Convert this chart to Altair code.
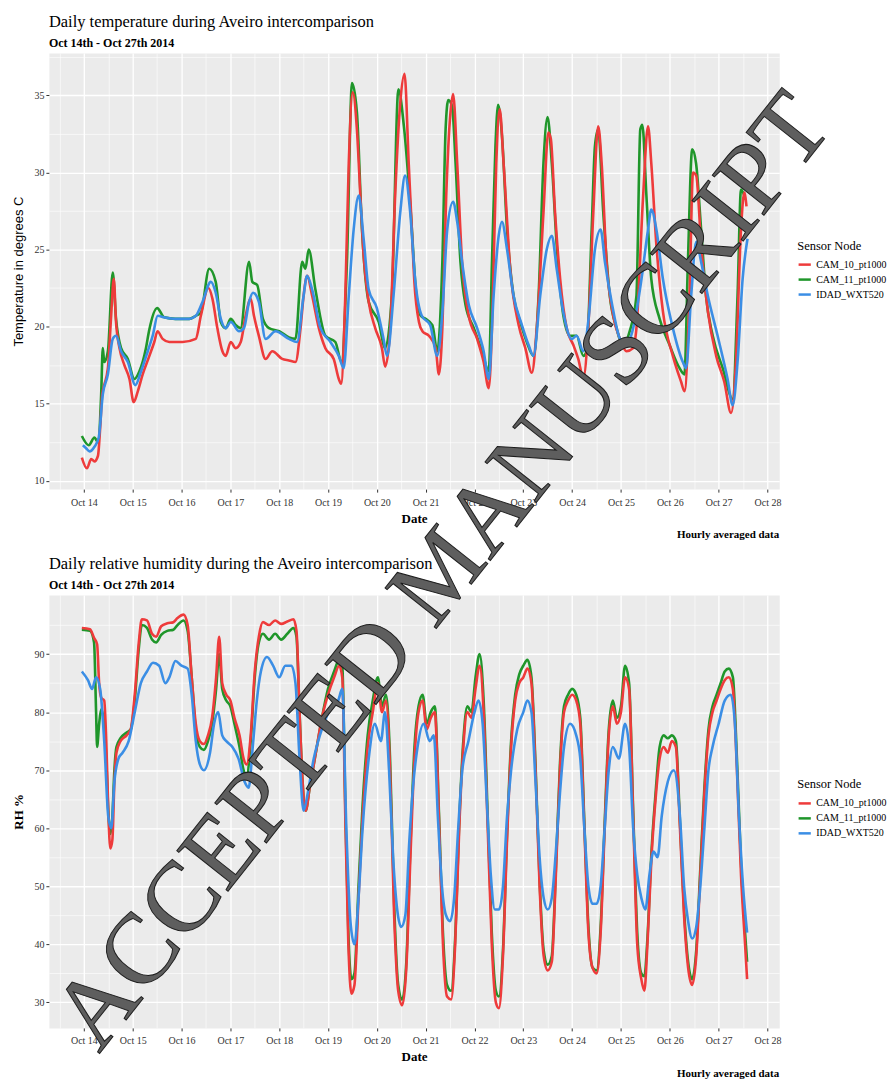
import altair as alt
import pandas as pd

SERIES = ["CAM_10_pt1000", "CAM_11_pt1000", "IDAD_WXT520"]
COLORS = ["#EE3B3B", "#1F962A", "#3B8EE5"]

# ---- Temperature (hours since Oct 14 00:00, degrees C) ----
temp_cam10 = [(-1, 11.5), (1.5, 10.8), (3.6, 11.4), (5.2, 11.25), (6.9, 11.6), (8, 13.4), (9, 15.6), (10, 16.2), (11.8, 17.3), (13.4, 20.7), (14.7, 23.1), (15.8, 20.3), (17.5, 18.6), (19.9, 17.5), (22.4, 16.6), (24.5, 15.1), (26.5, 15.8), (28.9, 16.9), (32.2, 18.1), (34.6, 19.0), (36.2, 19.7), (38.7, 19.2), (42, 19.0), (48.5, 19.0), (55, 19.2), (57.5, 20.7), (61.2, 22.5), (63.2, 21.8), (65.6, 19.9), (68.1, 18.4), (69.7, 18.1), (72.2, 19.0), (74.6, 18.6), (77.1, 19.0), (79.5, 20.7), (82, 21.8), (83.6, 20.7), (86, 19.4), (89.3, 17.9), (92.6, 18.4), (97.5, 17.9), (100.8, 17.8), (104, 17.7), (106.5, 19.9), (108, 22.0), (109.7, 23.3), (112.2, 22.0), (115.5, 19.9), (118.7, 18.6), (122.8, 17.9), (125.3, 16.6), (126.4, 16.3), (128.5, 22.0), (130.2, 30.6), (132.1, 35.2), (134.2, 32.8), (135.9, 28.5), (137.5, 24.6), (140, 21.6), (143.2, 19.9), (146.5, 18.6), (148.1, 17.4), (150.6, 19.9), (153, 28.5), (155.5, 34.5), (157.6, 36.4), (159.7, 30.5), (161.2, 26.3), (162.5, 22.8), (164.7, 20.3), (166.4, 19.7), (169.6, 19.4), (172.9, 18.6), (174.5, 16.9), (176.2, 19.9), (178.1, 28.5), (180.2, 33.9), (181.5, 35.1), (183.5, 30.6), (185.9, 24.2), (189.2, 20.7), (193.3, 19.2), (196.5, 17.7), (199, 16.0), (200.6, 19.9), (202.7, 30.6), (204.4, 34.1), (206.3, 30.6), (209.6, 23.7), (213.7, 20.1), (217, 18.6), (220.2, 17.0), (222.6, 19.9), (225.9, 27.4), (228.3, 32.6), (229.5, 32.2), (231.6, 27.4), (234.1, 23.1), (237.3, 19.9), (240.6, 18.8), (243, 17.9), (245.5, 16.7), (247.9, 19.9), (250.4, 27.4), (252.8, 33.0), (254.5, 30.6), (256.9, 24.2), (260.2, 20.7), (263.5, 19.2), (266.7, 18.4), (270, 18.6), (271.6, 19.9), (274.9, 28.5), (277.3, 33.0), (278.9, 30.6), (281.4, 25.3), (284.6, 21.0), (289.5, 18.1), (293.6, 16.4), (295.2, 15.8), (297.7, 22.0), (299.4, 30.0), (301, 29.8), (303.4, 25.3), (306.7, 21.0), (310.8, 18.1), (314.8, 16.4), (318.1, 14.4), (320.5, 17.7), (323, 26.3), (324.6, 28.7), (325.7, 27.8)]

temp_cam11 = [(-1, 12.9), (2.4, 12.3), (5.2, 12.8), (6.9, 12.5), (8.5, 15.6), (9.3, 18.6), (10, 17.7), (11.8, 18.4), (14.2, 23.5), (15.8, 20.5), (18.3, 18.6), (21.6, 17.9), (24.8, 16.6), (27.3, 17.1), (30.5, 18.6), (32, 19.7), (36, 21.2), (39.5, 20.6), (45, 20.5), (51.8, 20.5), (55, 20.7), (57.5, 20.9), (61.6, 23.75), (64.8, 22.9), (67.3, 20.3), (69.7, 19.9), (72.2, 20.5), (74.6, 20.1), (77, 19.9), (81.2, 24.2), (82.8, 22.9), (85.2, 22.7), (88, 20.5), (91, 19.9), (96, 19.7), (100.8, 19.3), (104, 19.2), (107.3, 24.2), (108.9, 23.75), (110.5, 25.0), (113.8, 22.4), (118.7, 19.4), (123.6, 19.0), (126.6, 17.7), (129.3, 24.2), (131.8, 35.8), (134.2, 33.9), (136.7, 26.3), (140, 21.6), (144.9, 20.3), (148.1, 18.6), (151.4, 22.1), (154.6, 35.4), (157.3, 33.0), (160.7, 27.4), (163.1, 22.5), (165.6, 20.7), (168, 20.5), (171.3, 20.1), (173.7, 18.4), (176.2, 24.2), (177.8, 32.8), (179.1, 34.7), (181, 34.3), (182.7, 30.6), (185.1, 24.2), (187.6, 21.4), (191.7, 19.9), (195.7, 18.4), (199, 17.1), (200.6, 24.2), (202.3, 31.7), (203.6, 34.4), (205.5, 32.4), (208, 26.3), (211.2, 22.0), (214.5, 20.3), (217.7, 19.0), (221, 18.1), (223.5, 22.0), (225.9, 30.6), (227.9, 33.6), (230, 30.6), (232.4, 25.3), (235.7, 20.7), (239, 19.4), (242.2, 19.4), (245.5, 18.1), (247.1, 18.4), (249.6, 26.3), (251.2, 31.7), (252.8, 32.8), (255.3, 27.4), (258.5, 22.0), (261.8, 19.9), (265, 18.8), (268.3, 19.7), (271.6, 22.0), (273.5, 32.8), (274.5, 33.1), (276.5, 28.5), (278.9, 23.1), (283, 20.5), (287.9, 18.8), (292.8, 17.3), (295.2, 16.9), (296.9, 24.2), (299, 31.5), (300.9, 30.6), (303.4, 26.3), (305.8, 22.0), (309.1, 19.4), (314, 17.3), (318.9, 15.3), (321.3, 22.0), (323, 28.9), (324.6, 28.5)]

temp_idad = [(-0.5, 12.3), (1.1, 12.1), (2.8, 11.9), (5.2, 12.2), (7.3, 12.8), (9.3, 15.6), (11.8, 16.9), (14.2, 19.2), (15.8, 19.4), (18.3, 18.4), (21.6, 17.7), (25.3, 16.2), (28.1, 17.1), (31.4, 18.4), (33.8, 19.4), (36.3, 20.7), (39.5, 20.6), (45, 20.5), (51.8, 20.5), (55, 20.7), (58.3, 21.6), (62.4, 22.9), (64.8, 22.2), (67.3, 20.5), (69.7, 19.9), (72.2, 20.3), (76.3, 19.7), (78.7, 19.9), (81.2, 21.6), (83.1, 22.2), (86, 21.6), (89.3, 19.2), (94.2, 19.7), (100.8, 19.2), (104.8, 19.0), (108, 22.0), (109.7, 23.3), (112.2, 22.4), (116.3, 19.9), (121.2, 19.0), (125.3, 18.1), (127.7, 17.3), (130.2, 22.0), (132.6, 26.3), (135.1, 28.5), (137.5, 25.7), (140, 22.4), (144, 21.2), (147.3, 19.2), (149, 18.1), (152.2, 22.0), (155.5, 27.4), (157.9, 29.8), (160.4, 27.4), (162.8, 23.1), (166.1, 20.7), (170.2, 20.1), (173.7, 18.1), (176.2, 20.9), (178.6, 26.3), (181.5, 28.1), (183.5, 26.8), (185.9, 24.2), (189.2, 21.4), (193.3, 19.9), (196.5, 18.4), (199, 16.6), (201.4, 22.0), (203.9, 25.9), (205.5, 26.8), (208, 25.0), (211.2, 22.0), (215.3, 20.1), (218.6, 18.8), (221, 18.1), (224.3, 22.0), (227.5, 25.0), (230, 25.9), (232.4, 23.75), (235.7, 20.9), (239.8, 19.2), (242.2, 19.4), (245.5, 18.4), (247.9, 20.3), (251.2, 25.0), (254, 26.3), (256.1, 24.2), (259.4, 21.6), (263.5, 19.2), (266.7, 18.8), (270, 19.9), (274.1, 23.1), (277.3, 26.3), (278.9, 27.6), (281.4, 26.3), (284.6, 23.1), (289.5, 19.9), (294.4, 17.7), (296, 17.3), (298.5, 22.0), (301, 25.5), (303.4, 24.2), (306.7, 22.0), (311.5, 19.4), (316.4, 16.6), (318.9, 14.9), (321.3, 17.7), (323.8, 23.1), (326.2, 25.7)]

# ---- Relative humidity (hours since Oct 14 00:00, %) ----
rh_cam10 = [(-1, 94.5), (3, 94.3), (5, 92.8), (6.5, 91.7), (7.5, 85), (8.5, 82.5), (10, 82), (11, 75), (12, 63), (13, 56.5), (14, 58), (15, 68), (16, 73), (18, 75), (21, 76), (23, 77), (25, 83), (27, 92), (28.5, 96), (31, 95.8), (33.5, 93.5), (35.5, 93), (38, 94.8), (41, 95.3), (44, 95.5), (46, 96.2), (49, 96.8), (51, 95), (53, 86), (55, 78), (57, 75), (59, 74.5), (61, 76), (63, 79), (65, 86), (66.5, 93), (68, 85), (70, 83), (72, 82), (74, 79), (76.5, 76), (78.5, 72), (80, 71), (82, 76), (84, 87), (86, 93), (88, 95.5), (91, 95), (94, 95.8), (97, 95.2), (100, 95.6), (103, 96), (104.5, 94), (106, 80), (107.5, 68), (109, 63), (111, 67), (114, 73), (117, 79), (120, 83), (123, 86), (125.5, 88), (127, 86), (128.5, 62), (130, 40), (131.5, 31.5), (133, 33), (135, 48), (137, 62), (139.5, 74), (142, 80), (144.5, 85), (146.5, 80), (148.5, 82), (150.5, 70), (152.5, 45), (154.5, 32), (156.5, 29.5), (158.5, 36), (160.5, 55), (162.5, 72), (164.5, 80), (166.5, 82), (168.5, 77), (170.5, 79), (172.5, 80), (174.5, 62), (176.5, 40), (178.5, 31), (180.5, 30.5), (182.5, 40), (184.5, 60), (186.5, 74), (188.5, 80), (190.5, 79), (192.5, 84), (194.5, 88), (196.5, 80), (198.5, 60), (200.5, 40), (202.5, 30), (204, 29), (206, 38), (208, 58), (210, 74), (212, 82), (214, 85), (216, 86), (218, 87.5), (220, 85), (222, 70), (224, 50), (226, 38), (228, 35.5), (230, 37), (232, 52), (234, 70), (236, 80), (238, 82), (240, 83), (242, 82), (244, 78), (246, 60), (248, 42), (250, 36), (252, 35), (254, 42), (256, 60), (258, 76), (260, 81), (262, 78), (264, 80), (266, 86), (268, 84), (270, 62), (272, 40), (274, 34), (275.5, 32), (277, 40), (279, 55), (281, 65), (283, 72), (285, 74), (287, 73), (289, 75), (291, 74), (293, 60), (295, 45), (297, 36), (299, 33), (301, 38), (303, 52), (305, 66), (307, 76), (309, 80), (311, 82), (313, 84), (315, 85.5), (317, 86), (319, 84), (321, 70), (323, 52), (325, 40), (326, 34)]

rh_cam11 = [(-1, 94.2), (3, 94), (5, 92), (6, 80), (6.5, 74), (7.5, 78), (8.5, 80.5), (10, 78), (11, 72), (12, 63), (13, 59), (14, 62), (15, 70), (16, 74), (18, 75.5), (21, 76.5), (23, 77), (25, 82), (27, 91), (28.5, 95), (31, 94.5), (33.5, 92.5), (35.5, 92), (38, 93.3), (41, 94), (44, 94.2), (46, 95), (49, 95.8), (51, 94), (53, 86), (55, 77), (57, 74), (59, 73.5), (61, 75), (63, 78), (65, 84), (66.5, 90), (68, 84), (70, 82), (72, 81), (74, 78), (76.5, 74), (78.5, 70), (80, 69), (82, 75), (84, 86), (86, 92), (88, 93.5), (91, 92.5), (94, 93.5), (97, 92.5), (100, 93.5), (103, 94.5), (104.5, 93), (106, 80), (107.5, 68), (109, 63), (111, 67), (114, 73), (117, 79), (120, 84), (123, 87), (125.5, 89), (127, 88), (128.5, 64), (130, 42), (131.5, 34), (133, 35), (135, 50), (137, 64), (139.5, 76), (142, 82), (144.5, 86), (146.5, 81), (148.5, 83), (150.5, 72), (152.5, 47), (154.5, 33), (156.5, 30.5), (158.5, 37), (160.5, 57), (162.5, 74), (164.5, 81), (166.5, 83), (168.5, 78), (170.5, 80), (172.5, 81), (174.5, 63), (176.5, 42), (178.5, 33), (180.5, 32), (182.5, 41), (184.5, 61), (186.5, 75), (188.5, 81), (190.5, 80), (192.5, 86), (194.5, 90), (196.5, 82), (198.5, 62), (200.5, 42), (202.5, 32), (204, 31), (206, 39), (208, 59), (210, 75), (212, 83), (214, 86.5), (216, 88), (218, 89), (220, 86), (222, 71), (224, 51), (226, 39), (228, 36.5), (230, 38), (232, 53), (234, 71), (236, 81), (238, 83), (240, 84), (242, 83), (244, 79), (246, 61), (248, 43), (250, 36), (252, 35.5), (254, 43), (256, 61), (258, 77), (260, 82), (262, 79), (264, 81), (266, 88), (268, 85), (270, 63), (272, 42), (274, 35), (275.5, 34.5), (277, 41), (279, 56), (281, 66), (283, 74), (285, 76), (287, 75.5), (289, 76), (291, 75), (293, 61), (295, 46), (297, 37), (299, 34), (301, 39), (303, 53), (305, 67), (307, 77), (309, 81), (311, 83), (313, 85), (315, 87), (317, 87.5), (319, 86), (321, 72), (323, 54), (325, 42), (326, 37)]

rh_idad = [(-1, 87), (2, 85.5), (4, 84), (6, 86), (8, 84), (10, 75), (12, 62), (13.5, 60), (15, 68), (17, 72), (19, 73), (22, 75), (25, 80), (28, 85), (31, 87), (34, 88.5), (37, 88), (40, 85), (42, 86), (45, 88.8), (48, 88), (51, 87.5), (53, 83), (55, 75), (57, 71), (59, 70), (62, 73), (64, 78), (66, 80), (68, 76), (70, 75), (73, 74), (76, 72), (79, 68), (81, 67), (83, 74), (85, 82), (87, 87), (90, 89.5), (93, 88), (96, 86), (99, 88), (102, 88), (104, 85), (106, 72), (108, 63), (110, 66), (113, 72), (116, 76), (119, 79), (122, 81), (125, 82), (127, 84), (129, 60), (131, 44), (133, 40), (135, 48), (137, 60), (140, 72), (143, 78), (146, 75), (148, 80), (150, 70), (152, 55), (154, 46), (156, 43), (158, 45), (160, 58), (162, 68), (164, 74), (167, 78), (170, 75), (172, 76), (174, 62), (176, 50), (178, 45), (180, 44), (182, 48), (184, 60), (186, 70), (189, 75), (192, 80), (194, 82), (196, 78), (198, 65), (200, 52), (202, 46), (204, 46), (206, 50), (208, 62), (210, 70), (213, 77), (216, 80), (218, 82), (220, 80), (222, 68), (224, 55), (226, 48), (228, 46), (230, 48), (232, 56), (234, 66), (236, 74), (239, 78), (242, 76), (244, 72), (246, 60), (248, 50), (250, 47), (252, 47), (254, 50), (256, 60), (258, 70), (260, 74), (263, 72), (266, 78), (268, 74), (270, 60), (272, 52), (274, 48), (276, 46), (278, 52), (280, 56), (282, 55), (284, 62), (287, 68), (290, 70), (293, 62), (295, 50), (297, 44), (299, 41), (301, 43), (303, 50), (305, 60), (307, 70), (309, 74), (312, 78), (315, 82), (318, 83), (320, 78), (322, 62), (324, 50), (326, 42)]

X_TICKS = list(range(-12, 337, 12))
TEMP_TICKS = [10 + 2.5 * i for i in range(12)]
RH_TICKS = list(range(30, 100, 5))
SERIF = "Liberation Serif"
SANS = "Liberation Sans"


def make_df(groups):
    rows = []
    for name, pairs in groups:
        for h, v in pairs:
            rows.append({"h": h, "v": v, "s": name})
    return pd.DataFrame(rows)


def cond(test, a, b):
    return {"condition": {"test": test, "value": a}, "value": b}


def label_layer(text, x, y, size, weight, align="left"):
    return alt.Chart(pd.DataFrame({"t": [text]})).mark_text(
        align=align, baseline="alphabetic", font=SERIF, fontSize=size,
        fontWeight=weight, color="black").encode(
        x=alt.value(x), y=alt.value(y), text="t:N")


def panel(df, ydom, yticks, ymajor, ytitle, ytitle_font, ytitle_weight,
          title, height, legend_y, watermark=False):
    xmajor = "datum.value % 24 === 0"
    x = alt.X("h:Q", scale=alt.Scale(domain=[-17.2, 341.8], nice=False, zero=False),
              axis=alt.Axis(values=X_TICKS, title="Date",
                            labelExpr=f"{xmajor} ? 'Oct ' + (14 + datum.value / 24) : ''",
                            tickOpacity=cond(xmajor, 1, 0),
                            gridWidth=cond(xmajor, 1.3, 0.6),
                            labelOverlap=False, labelFlush=False, labelPadding=5,
                            titleFont=SERIF, titleFontSize=13, titleFontWeight="bold",
                            titleColor="black", titlePadding=5))
    y = alt.Y("v:Q", scale=alt.Scale(domain=ydom, nice=False, zero=False),
              axis=alt.Axis(values=yticks, title=ytitle,
                            labelExpr=f"{ymajor} ? datum.value : ''",
                            tickOpacity=cond(ymajor, 1, 0),
                            gridWidth=cond(ymajor, 1.3, 0.6),
                            labelOverlap=False, labelFlush=False,
                            titleFont=ytitle_font, titleFontSize=13,
                            titleFontWeight=ytitle_weight, titleColor="black",
                            titlePadding=8))
    color = alt.Color("s:N", scale=alt.Scale(domain=SERIES, range=COLORS),
                      legend=alt.Legend(title="Sensor Node", orient="none",
                                        legendX=750, legendY=legend_y,
                                        symbolType="stroke", symbolStrokeWidth=2.5,
                                        symbolSize=150, titleFont=SERIF,
                                        titleFontSize=12.5, titleFontWeight="normal",
                                        titleColor="black", labelFont=SERIF,
                                        labelFontSize=10, labelColor="black",
                                        rowPadding=2, titlePadding=5, labelOffset=4))
    base = alt.Chart(df)
    layers = []
    for name in [SERIES[1], SERIES[0], SERIES[2]]:
        layers.append(base.transform_filter(alt.datum.s == name)
                      .mark_line(strokeWidth=2.6, strokeJoin="round", interpolate="monotone")
                      .encode(x=x, y=y, color=color))
    layers.append(label_layer("Hourly averaged data", 732, height + 49, 11, "bold", "right"))
    layers.append(label_layer(title[0], 0, -26, 16.5, "normal"))
    layers.append(label_layer(title[1], 0, -6, 12, "bold"))
    if watermark:
        wm = alt.Chart(pd.DataFrame({"t": ["ACCEPTED MANUSCRIPT"]})).mark_text(
            align="center", baseline="middle", font=SERIF, fontSize=100,
            angle=308.4, fill="#5e5e5e", stroke="#1c1c1c", strokeWidth=1).encode(
            x=alt.value(395), y=alt.value(-23), text="t:N")
        layers.append(wm)
    return alt.layer(*layers).properties(width=732, height=height)


temp_df = make_df([(SERIES[0], temp_cam10), (SERIES[1], temp_cam11), (SERIES[2], temp_idad)])
rh_df = make_df([(SERIES[0], rh_cam10), (SERIES[1], rh_cam11), (SERIES[2], rh_idad)])

top = panel(temp_df, [9.45, 37.75], TEMP_TICKS, "datum.value % 5 === 0",
            "Temperature in degrees C", SANS, "normal",
            ("Daily temperature during Aveiro intercomparison", "Oct 14th - Oct 27th 2014"),
            437, 187)
bottom = panel(rh_df, [25.6, 100.2], RH_TICKS, "datum.value % 10 === 0",
               "RH %", SERIF, "bold",
               ("Daily relative humidity during the Aveiro intercomparison", "Oct 14th - Oct 27th 2014"),
               434, 184, watermark=True)

chart = alt.vconcat(top, bottom, spacing=106, bounds="flush").resolve_scale(
    color="independent").configure_view(fill="#EBEBEB", stroke="transparent").configure_axis(
    gridColor="white", domain=False, tickColor="#333333", tickSize=3, tickWidth=1,
    labelFont=SERIF, labelFontSize=10, labelColor="#333333", labelPadding=2).properties(
    padding={"left": 12, "top": 12, "right": 5, "bottom": 5}, background="white")

chart.save("out.html", embed_options={"renderer": "svg", "actions": False})
